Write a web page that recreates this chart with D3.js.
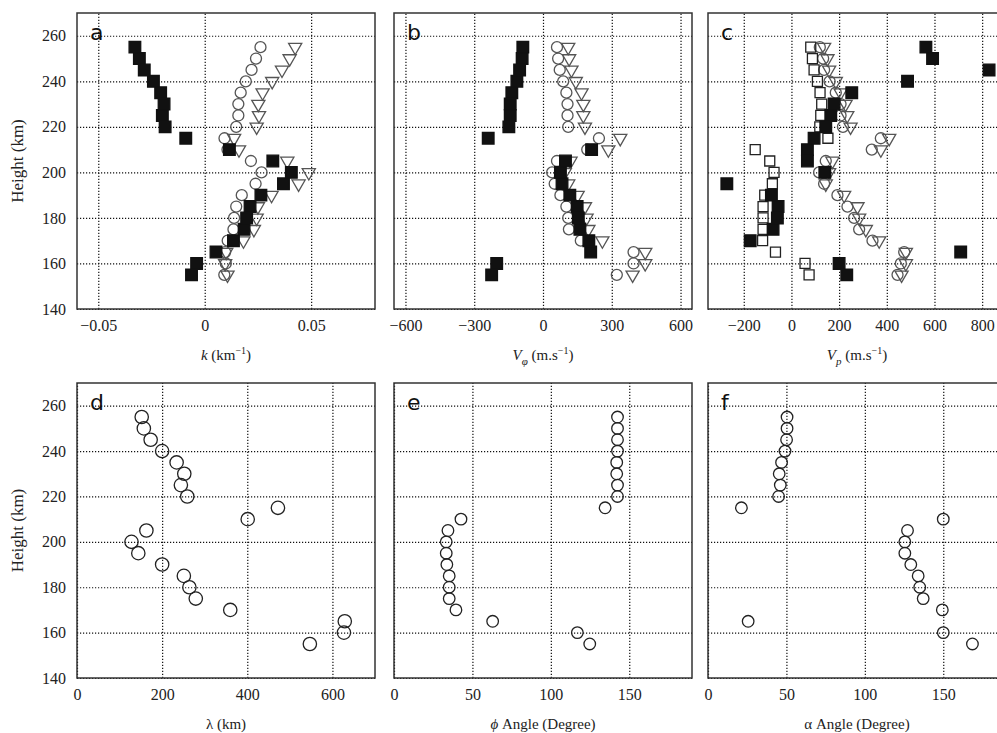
<!DOCTYPE html>
<html>
<head>
<meta charset="utf-8">
<script src="https://cdn.jsdelivr.net/npm/d3@7"></script>
<style>
  body { margin: 0; background: #fff; }
</style>
</head>
<body>
<svg id="chart" width="997" height="733"></svg>
<script>
// heights (km), 155 -> 255
var heights = [155, 160, 165, 170, 175, 180, 185, 190, 195, 200, 205, 210, 215, 220, 225, 230, 235, 240, 245, 250, 255];
var heightTicks = [140, 160, 180, 200, 220, 240, 260];

// panel a: k (km^-1)
var kSquare   = [-0.0062, -0.0038, 0.0053, 0.0135, 0.0185, 0.0197, 0.0213, 0.0264, 0.037, 0.0407, 0.032, 0.0116, -0.0089, -0.0186, -0.0199, -0.0191, -0.0207, -0.0241, -0.0284, -0.0307, -0.0328];
var kCircle   = [0.0092, 0.0099, 0.0096, 0.0108, 0.0135, 0.0138, 0.0148, 0.0174, 0.0239, 0.0267, 0.0217, 0.0107, 0.0093, 0.0148, 0.0158, 0.0158, 0.0169, 0.0193, 0.022, 0.0241, 0.0262];
var kTriangle = [0.0107, 0.0096, 0.0101, 0.0182, 0.0231, 0.0244, 0.025, 0.0314, 0.0441, 0.0489, 0.0388, 0.0161, 0.0138, 0.0244, 0.0255, 0.0252, 0.0272, 0.0317, 0.0363, 0.0399, 0.0425];
var kTicks = [-0.05, 0, 0.05];

// panel b: V_phi (m/s)
var vphiSquare   = [-224, -202, 208, 200, 161, 154, 149, 117, 83, 76, 98, 212, -239, -149, -143, -143, -136, -114, -102, -91, -88];
var vphiCircle   = [322, 395, 395, 165, 113, 110, 102, 76, 51, 40, 61, 193, 244, 110, 107, 107, 102, 88, 73, 66, 61];
var vphiTriangle = [391, 446, 446, 259, 198, 190, 183, 151, 110, 95, 120, 285, 337, 183, 176, 176, 168, 143, 124, 114, 110];
var vphiTicks = [-600, -300, 0, 300, 600];

// panel c: V_p (m/s)
var vpOpenSquare = [74, 57, -67, -121, -119, -119, -119, -112, -80, -73, -91, -152, 153, 119, 123, 127, 120, 109, 95, 88, 81];
var vpSquare     = [232, 200, 710, -173, -77, -59, -56, -84, -271, 140, 67, 67, 95, 144, 165, 179, 253, 487, 829, 592, 564];
var vpCircle     = [445, 459, 473, 340, 284, 263, 235, 193, 137, 116, 144, 337, 375, 216, 206, 206, 186, 160, 137, 133, 119];
var vpTriangle   = [462, 480, 480, 368, 312, 284, 277, 221, 144, 158, 172, 375, 410, 248, 234, 227, 206, 186, 158, 151, 137];
var vpTicks = [-200, 0, 200, 400, 600, 800];

// panel d: wavelength (km)
var lambda = [547, 627, 629, 360, 279, 264, 251, 200, 144, 128, 163, 401, 472, 259, 244, 252, 234, 200, 173, 157, 152];
var lambdaTicks = [0, 200, 400, 600];

// panel e, f: angles (degree)
var phiAngle   = [124.8, 116.9, 62.9, 39.5, 35.2, 35.2, 35.2, 33.7, 33.3, 33.3, 34.4, 42.7, 134.6, 142.5, 142.5, 142, 142, 142.5, 142.5, 142.5, 142.5];
var alphaAngle = [168.6, 150, 25.6, 149.4, 137.2, 135, 134, 129.3, 125.5, 125.5, 127.2, 150, 21.3, 45, 46.1, 45.4, 46.9, 49.1, 50.1, 50.4, 50.4];
var angleTicks = [0, 50, 100, 150];

var serif = "'Liberation Serif', 'Times New Roman', serif";

var svg = d3.select("#chart");

var rows = [{top: 13, bottom: 309}, {top: 383, bottom: 678}];
var cols = [{left: 77, right: 375}, {left: 394, right: 692}, {left: 708, right: 1006}];

var symbols = {
  square:   {type: d3.symbolSquare,   size: 135, fill: "#111", stroke: "#111", rot: 0},
  open:     {type: d3.symbolSquare,   size: 100, fill: "none", stroke: "#222", rot: 0},
  circle:   {type: d3.symbolCircle,   size: 95,  fill: "none", stroke: "#555", rot: 0},
  triangle: {type: d3.symbolTriangle, size: 75,  fill: "none", stroke: "#555", rot: 180},
  big:      {type: d3.symbolCircle,   size: 140, fill: "none", stroke: "#222", rot: 0},
  mid:      {type: d3.symbolCircle,   size: 105, fill: "none", stroke: "#222", rot: 0}
};

function serifText(s, size) {
  s.style("font-family", serif).style("font-size", size + "px").style("fill", "#222");
}

function drawPanel(p) {
  var row = rows[p.row], col = cols[p.col];
  var x = d3.scaleLinear().domain(p.domain).range([col.left, col.right]);
  var y = d3.scaleLinear().domain([140, 270]).range([row.bottom, row.top]);
  var g = svg.append("g");

  // dotted grid
  g.append("g")
    .attr("transform", "translate(0," + row.bottom + ")")
    .call(d3.axisBottom(x).tickValues(p.ticks).tickSize(-(row.bottom - row.top)).tickFormat(""))
    .call(function(s) { s.select(".domain").remove(); });
  g.append("g")
    .attr("transform", "translate(" + col.left + ",0)")
    .call(d3.axisLeft(y).tickValues(heightTicks).tickSize(-(col.right - col.left)).tickFormat(""))
    .call(function(s) { s.select(".domain").remove(); });
  g.selectAll(".tick line")
    .attr("stroke", "#111")
    .attr("stroke-width", 1.2)
    .attr("stroke-dasharray", "1.2,1.8");

  // tick labels
  g.append("g")
    .attr("transform", "translate(0," + row.bottom + ")")
    .call(d3.axisBottom(x).tickValues(p.ticks).tickSize(0).tickPadding(11).tickFormat(p.fmt || d3.format("d")))
    .call(function(s) {
      s.select(".domain").remove();
      serifText(s.selectAll("text"), 16);
    });
  if (p.col === 0) {
    g.append("g")
      .attr("transform", "translate(" + col.left + ",0)")
      .call(d3.axisLeft(y).tickValues(heightTicks).tickSize(0).tickPadding(11))
      .call(function(s) {
        s.select(".domain").remove();
        serifText(s.selectAll("text"), 16);
      });
    g.append("text")
      .attr("transform", "translate(23," + (row.top + row.bottom) / 2 + ") rotate(-90)")
      .attr("text-anchor", "middle")
      .call(serifText, 17)
      .text("Height (km)");
  }

  // frame
  g.append("rect")
    .attr("x", col.left).attr("y", row.top)
    .attr("width", col.right - col.left).attr("height", row.bottom - row.top)
    .attr("fill", "none").attr("stroke", "#333").attr("stroke-width", 1.5);

  // markers
  p.series.forEach(function(s) {
    var sym = symbols[s.kind];
    g.append("g").selectAll("path")
      .data(heights.map(function(h, i) { return {h: h, v: s.values[i]}; }))
      .enter().append("path")
        .attr("d", d3.symbol().type(sym.type).size(sym.size))
        .attr("transform", function(d) {
          return "translate(" + x(d.v) + "," + y(d.h) + ") rotate(" + sym.rot + ")";
        })
        .attr("fill", sym.fill)
        .attr("stroke", sym.stroke)
        .attr("stroke-width", 1.3);
  });

  // panel letter
  g.append("text")
    .attr("x", col.left + 13).attr("y", row.top + 27)
    .style("font-family", "'DejaVu Sans', sans-serif")
    .style("font-size", "22px")
    .style("fill", "#111")
    .text(p.letter);

  // x title
  var t = g.append("text")
    .attr("x", (col.left + col.right) / 2)
    .attr("y", row.bottom + 51)
    .attr("text-anchor", "middle")
    .call(serifText, 15);
  p.title(t);
}

function sup(t, s) {
  t.append("tspan").attr("dy", -6).style("font-size", "10px").text(s);
}

drawPanel({
  row: 0, col: 0, letter: "a", domain: [-0.06, 0.08], ticks: kTicks,
  fmt: function(d) { return d === 0 ? "0" : d3.format(".2f")(d); },
  series: [
    {kind: "triangle", values: kTriangle},
    {kind: "circle", values: kCircle},
    {kind: "square", values: kSquare}
  ],
  title: function(t) {
    t.append("tspan").style("font-style", "italic").text("k");
    t.append("tspan").text(" (km");
    sup(t, "\u22121");
    t.append("tspan").attr("dy", 6).text(")");
  }
});

drawPanel({
  row: 0, col: 1, letter: "b", domain: [-650, 650], ticks: vphiTicks,
  series: [
    {kind: "triangle", values: vphiTriangle},
    {kind: "circle", values: vphiCircle},
    {kind: "square", values: vphiSquare}
  ],
  title: function(t) {
    t.append("tspan").style("font-style", "italic").text("V");
    t.append("tspan").attr("dy", 5).style("font-size", "11px").style("font-style", "italic").text("\u03c6");
    t.append("tspan").attr("dy", -5).text(" (m.s");
    sup(t, "\u22121");
    t.append("tspan").attr("dy", 6).text(")");
  }
});

drawPanel({
  row: 0, col: 2, letter: "c", domain: [-350, 900], ticks: vpTicks,
  series: [
    {kind: "triangle", values: vpTriangle},
    {kind: "circle", values: vpCircle},
    {kind: "open", values: vpOpenSquare},
    {kind: "square", values: vpSquare}
  ],
  title: function(t) {
    t.append("tspan").style("font-style", "italic").text("V");
    t.append("tspan").attr("dy", 5).style("font-size", "11px").style("font-style", "italic").text("p");
    t.append("tspan").attr("dy", -5).text(" (m.s");
    sup(t, "\u22121");
    t.append("tspan").attr("dy", 6).text(")");
  }
});

drawPanel({
  row: 1, col: 0, letter: "d", domain: [0, 700], ticks: lambdaTicks,
  series: [{kind: "big", values: lambda}],
  title: function(t) { t.text("\u03bb (km)"); }
});

drawPanel({
  row: 1, col: 1, letter: "e", domain: [0, 190], ticks: angleTicks,
  series: [{kind: "mid", values: phiAngle}],
  title: function(t) {
    t.append("tspan").style("font-style", "italic").text("\u03d5");
    t.append("tspan").text(" Angle (Degree)");
  }
});

drawPanel({
  row: 1, col: 2, letter: "f", domain: [0, 190], ticks: angleTicks,
  series: [{kind: "mid", values: alphaAngle}],
  title: function(t) { t.text("\u03b1 Angle (Degree)"); }
});
</script>
</body>
</html>
